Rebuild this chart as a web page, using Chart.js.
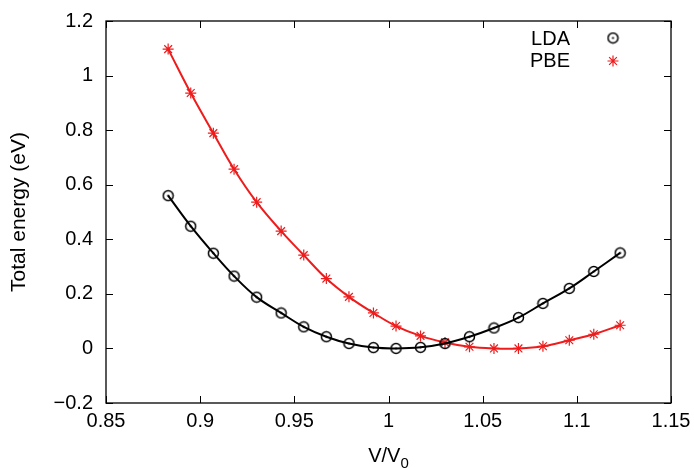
<!DOCTYPE html>
<html>
<head>
<meta charset="utf-8">
<script src="https://cdn.jsdelivr.net/npm/chart.js@4.4.1/dist/chart.umd.min.js"></script>
<style>
    html, body { margin: 0; padding: 0; background: #ffffff; }
    #grafico { display: block; }
</style>
</head>
<body>
<canvas id="grafico" width="694" height="468"></canvas>
<script>

// V/V0 values (same for both series)
const volumes = [0.883, 0.895, 0.907, 0.918, 0.930, 0.943, 0.955, 0.967, 0.979, 0.992,
                 1.004, 1.017, 1.030, 1.043, 1.056, 1.069, 1.082, 1.096, 1.109, 1.123];

// total energy (eV)
const energia_lda = [0.560, 0.448, 0.349, 0.265, 0.188, 0.130, 0.079, 0.043, 0.018, 0.003,
                     0.000, 0.004, 0.018, 0.043, 0.075, 0.113, 0.165, 0.220, 0.282, 0.350];

const energia_pbe = [1.097, 0.936, 0.789, 0.657, 0.536, 0.430, 0.342, 0.256, 0.189, 0.130,
                     0.082, 0.046, 0.022, 0.006, 0.000, 0.000, 0.008, 0.030, 0.052, 0.085];

const nomes_series = ['LDA', 'PBE'];
const ticks_x = [0.85, 0.9, 0.95, 1, 1.05, 1.1, 1.15];
const ticks_y = [-0.2, 0, 0.2, 0.4, 0.6, 0.8, 1, 1.2];

const FONTE = '"Liberation Sans", Arial, sans-serif';
const TAM_FONTE = 20;
const VERMELHO = '#ee1c1c';


//circulo com ponto no meio (estilo gnuplot)
function criar_circulo(){
    const c = document.createElement('canvas');
    c.width = 13;
    c.height = 13;
    const ctx = c.getContext('2d');
    ctx.strokeStyle = '#000000';
    ctx.lineWidth = 1.5;
    ctx.beginPath();
    ctx.arc(6.5, 6.5, 5, 0, Math.PI * 2);
    ctx.stroke();
    ctx.fillStyle = '#000000';
    ctx.beginPath();
    ctx.arc(6.5, 6.5, 1.1, 0, Math.PI * 2);
    ctx.fill();
    return c;
}
const circulo = criar_circulo();


const pontos = (ys) => volumes.map((v, i) => ({x: v, y: ys[i]}));


//borda, ticks para dentro, legenda e títulos
const plugin_moldura = {
    id: 'moldura',
    afterDraw(chart){
        const ctx = chart.ctx;
        const area = chart.chartArea;
        const sx = chart.scales.x;
        const sy = chart.scales.y;
        const tam = 7;

        ctx.save();
        ctx.strokeStyle = '#000000';
        ctx.lineWidth = 1.3;
        ctx.strokeRect(area.left, area.top, area.right - area.left, area.bottom - area.top);

        ctx.beginPath();
        ticks_x.forEach(t => {
            const px = Math.round(sx.getPixelForValue(t)) + 0.5;
            ctx.moveTo(px, area.bottom);
            ctx.lineTo(px, area.bottom - tam);
            ctx.moveTo(px, area.top);
            ctx.lineTo(px, area.top + tam);
        });
        ticks_y.forEach(t => {
            const py = Math.round(sy.getPixelForValue(t)) + 0.5;
            ctx.moveTo(area.left, py);
            ctx.lineTo(area.left + tam, py);
            ctx.moveTo(area.right, py);
            ctx.lineTo(area.right - tam, py);
        });
        ctx.lineWidth = 1;
        ctx.stroke();

        //legenda
        ctx.fillStyle = '#000000';
        ctx.font = TAM_FONTE + 'px ' + FONTE;
        ctx.textAlign = 'right';
        ctx.textBaseline = 'middle';
        ctx.fillText(nomes_series[0], 570, 39);
        ctx.fillText(nomes_series[1], 570, 61);
        ctx.drawImage(circulo, 613 - 6.5, 38 - 6.5);

        ctx.strokeStyle = VERMELHO;
        ctx.lineWidth = 1.2;
        const r = 5.5;
        const cx = 613, cy = 61;
        ctx.beginPath();
        ctx.moveTo(cx - r, cy); ctx.lineTo(cx + r, cy);
        ctx.moveTo(cx, cy - r); ctx.lineTo(cx, cy + r);
        const d = r * 0.7071;
        ctx.moveTo(cx - d, cy - d); ctx.lineTo(cx + d, cy + d);
        ctx.moveTo(cx - d, cy + d); ctx.lineTo(cx + d, cy - d);
        ctx.stroke();

        //titulo eixo y
        ctx.save();
        ctx.translate(19, (area.top + area.bottom) / 2);
        ctx.rotate(-Math.PI / 2);
        ctx.textAlign = 'center';
        ctx.font = '21px ' + FONTE;
        ctx.fillText('Total energy (eV)', 0, 0);
        ctx.restore();

        //titulo eixo x: V/V0
        ctx.textAlign = 'left';
        ctx.textBaseline = 'alphabetic';
        ctx.font = TAM_FONTE + 'px ' + FONTE;
        const base = 'V/V';
        const w = ctx.measureText(base).width;
        ctx.font = '15px ' + FONTE;
        const ws = ctx.measureText('0').width;
        const x0 = (area.left + area.right) / 2 - (w + ws) / 2;
        ctx.font = TAM_FONTE + 'px ' + FONTE;
        ctx.fillText(base, x0, 462);
        ctx.font = '15px ' + FONTE;
        ctx.fillText('0', x0 + w, 468);

        ctx.restore();
    }
};


new Chart(document.getElementById('grafico').getContext('2d'), {
    type: 'line',
    data: {
        datasets: [
            {
                label: nomes_series[0],
                data: pontos(energia_lda),
                borderColor: '#000000',
                borderWidth: 2,
                tension: 0.4,
                pointStyle: circulo,
                pointRadius: 6,
                fill: false
            },
            {
                label: nomes_series[1],
                data: pontos(energia_pbe),
                borderColor: VERMELHO,
                borderWidth: 2,
                tension: 0.4,
                pointStyle: 'star',
                pointRadius: 5.5,
                pointBorderWidth: 1.2,
                pointBorderColor: VERMELHO,
                pointBackgroundColor: VERMELHO,
                fill: false
            }
        ]
    },
    options: {
        responsive: false,
        animation: false,
        devicePixelRatio: 1,
        layout: {
            padding: {top: 21, right: 23, left: 0, bottom: 0}
        },
        plugins: {
            legend: {display: false},
            tooltip: {enabled: false}
        },
        scales: {
            x: {
                type: 'linear',
                min: 0.85,
                max: 1.15,
                afterBuildTicks: (escala) => { escala.ticks = ticks_x.map(v => ({value: v})); },
                afterFit: (escala) => {
                    escala.height = 65;
                    escala.paddingLeft = 0;
                    escala.paddingRight = 0;
                },
                grid: {display: false, drawTicks: false, tickLength: 0},
                border: {display: false},
                ticks: {
                    color: '#000000',
                    padding: 6,
                    maxRotation: 0,
                    font: {family: FONTE, size: TAM_FONTE},
                    callback: (v) => String(v)
                }
            },
            y: {
                type: 'linear',
                min: -0.2,
                max: 1.2,
                afterBuildTicks: (escala) => { escala.ticks = ticks_y.map(v => ({value: v})); },
                afterFit: (escala) => {
                    escala.width = 106;
                    escala.paddingTop = 0;
                    escala.paddingBottom = 0;
                },
                grid: {display: false, drawTicks: false, tickLength: 0},
                border: {display: false},
                ticks: {
                    color: '#000000',
                    padding: 13,
                    font: {family: FONTE, size: TAM_FONTE},
                    callback: (v) => (v < 0 ? '\u2212' + String(Math.abs(v)) : String(Math.round(v * 10) / 10))
                }
            }
        }
    },
    plugins: [plugin_moldura]
});

</script>
</body>
</html>
